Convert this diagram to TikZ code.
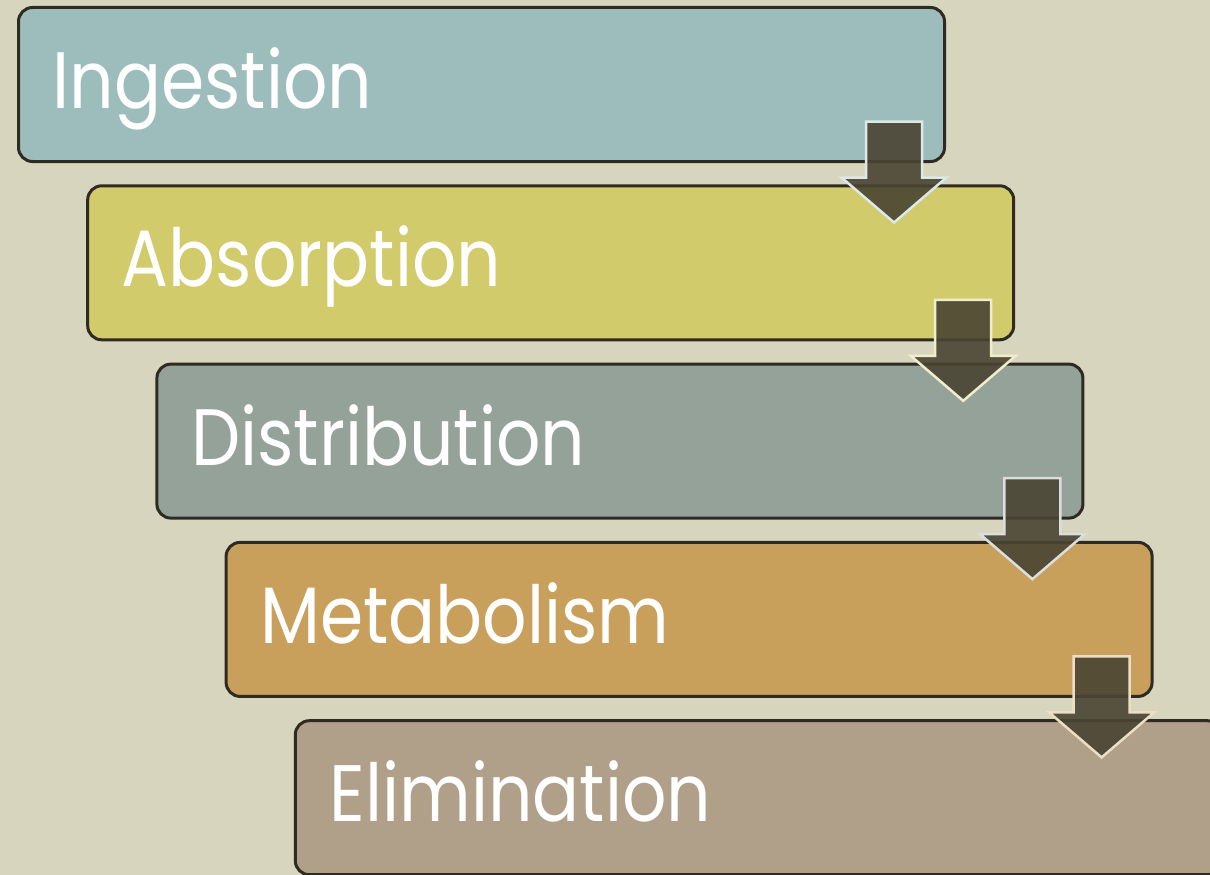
\documentclass[tikz,border=0pt]{standalone}
\usepackage{fontspec}
\setmainfont{Poppins}[FakeStretch=0.87]
\usetikzlibrary{calc}
\definecolor{bg}{HTML}{D8D5BF}
\definecolor{cA}{HTML}{9DBDBC}
\definecolor{cB}{HTML}{D2CB6C}
\definecolor{cC}{HTML}{94A29A}
\definecolor{cD}{HTML}{C8A05C}
\definecolor{cE}{HTML}{B09F89}
\definecolor{edge}{HTML}{2F2B22}
\definecolor{arrowfill}{HTML}{4A4433}
\tikzset{
  stepbox/.style={draw=edge, line width=3pt, rounded corners=14pt, minimum width=926pt, minimum height=154pt, inner sep=0pt, outer sep=0pt, anchor=north west},
  steptext/.style={anchor=base west, text=white, inner sep=0pt, font=\fontsize{80}{90}\selectfont},
  blockarrow/.style={fill=arrowfill, fill opacity=0.9, line width=2.5pt, line join=miter},
}
\newcommand{\downarrowat}[2]{%
  \draw[blockarrow, draw=#2] ($(#1.north east)+(-78.5,114)$) -- ++(56,0) -- ++(0,56) -- ++(24.5,0) -- ++(-52.5,45) -- ++(-52.5,-45) -- ++(24.5,0) -- cycle;}
\begin{document}
\begin{tikzpicture}[x=1pt,y=-1pt]
\useasboundingbox (0,0) rectangle (1210,875);
\clip (0,0) rectangle (1210,875);
\fill[bg] (0,0) rectangle (1210,875);
\node[stepbox, fill=cA] (b1) at (18.5,7.5) {};
\node[stepbox, fill=cB] (b2) at (87.7,185.8) {};
\node[stepbox, fill=cC] (b3) at (156.9,364.1) {};
\node[stepbox, fill=cD] (b4) at (226.1,542.4) {};
\node[stepbox, fill=cE] (b5) at (295.3,720.7) {};
\node[steptext] (t1) at ($(b1.north west)+(34,101)$) {Ingestion};
\node[steptext] (t2) at ($(b2.north west)+(34,101)$) {Absorption};
\node[steptext] (t3) at ($(b3.north west)+(34,101)$) {Distribution};
\node[steptext] (t4) at ($(b4.north west)+(34,101)$) {Metabolism};
\node[steptext] (t5) at ($(b5.north west)+(34,101)$) {Elimination};
\downarrowat{b1}{cA!35!white}
\downarrowat{b2}{cB!35!white}
\downarrowat{b3}{cC!35!white}
\downarrowat{b4}{cD!35!white}
\end{tikzpicture}
\end{document}
